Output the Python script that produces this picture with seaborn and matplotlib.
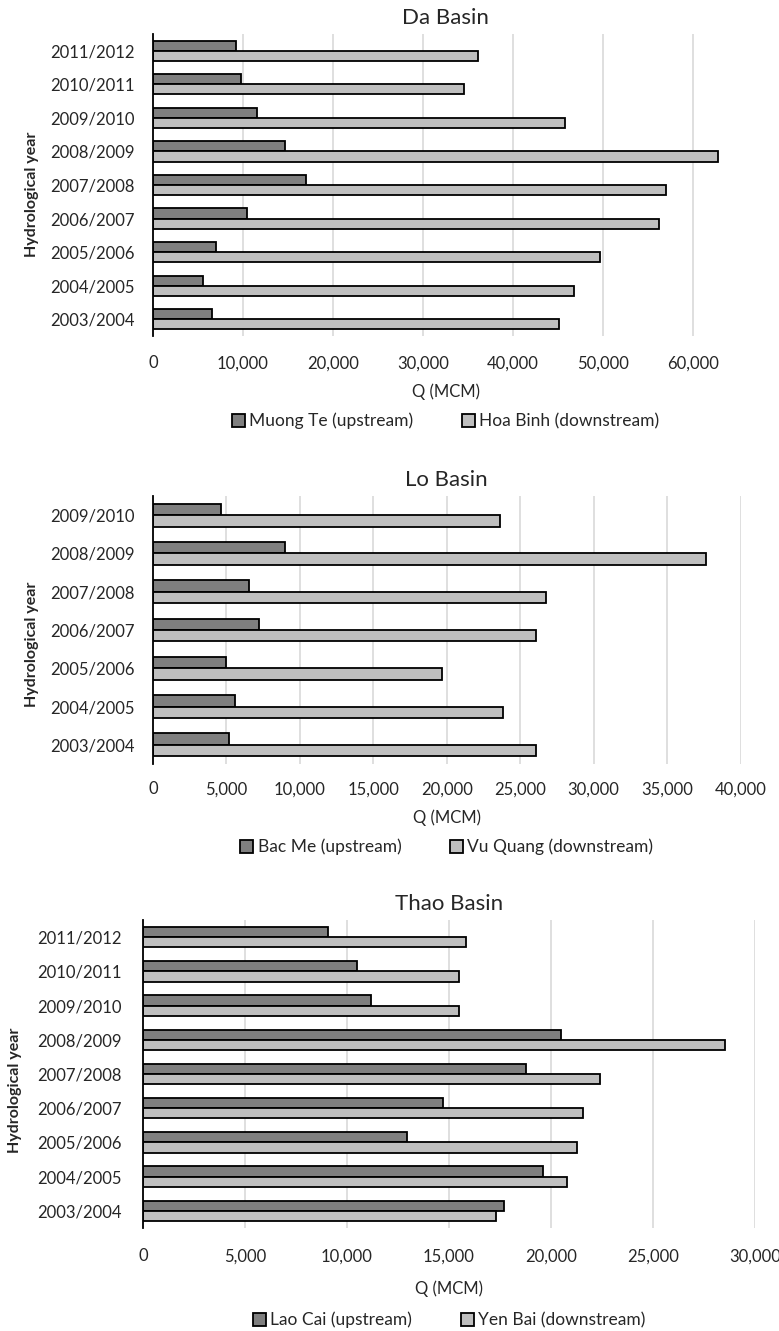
import numpy as np
import pandas as pd
import matplotlib
matplotlib.use("Agg")
import matplotlib.pyplot as plt
import seaborn as sns

# ---- data -------------------------------------------------------------
da_years = ["2011/2012", "2010/2011", "2009/2010", "2008/2009", "2007/2008",
            "2006/2007", "2005/2006", "2004/2005", "2003/2004"]
da_muong_te = [9250, 9750, 11550, 14650, 17000, 10400, 7000, 5550, 6550]
da_hoa_binh = [36100, 34500, 45800, 62800, 57000, 56200, 49700, 46800, 45100]

lo_years = ["2009/2010", "2008/2009", "2007/2008", "2006/2007",
            "2005/2006", "2004/2005", "2003/2004"]
lo_bac_me = [4650, 9000, 6550, 7200, 5000, 5550, 5200]
lo_vu_quang = [23650, 37650, 26750, 26100, 19650, 23850, 26050]

thao_years = ["2011/2012", "2010/2011", "2009/2010", "2008/2009", "2007/2008",
              "2006/2007", "2005/2006", "2004/2005", "2003/2004"]
thao_lao_cai = [9050, 10500, 11200, 20500, 18750, 14700, 12950, 19600, 17700]
thao_yen_bai = [15850, 15500, 15500, 28550, 22400, 21550, 21250, 20800, 17300]

da_ticks = [0, 10000, 20000, 30000, 40000, 50000, 60000]
lo_ticks = [0, 5000, 10000, 15000, 20000, 25000, 30000, 35000, 40000]
thao_ticks = [0, 5000, 10000, 15000, 20000, 25000, 30000]

# ---- style ------------------------------------------------------------
sns.set_theme(style="white")
plt.rcParams["font.family"] = ["Lato", "DejaVu Sans"]

W, H = 779, 1331
DARK, LIGHT = "#7f7f7f", "#bfbfbf"
TXT = "#262626"
TICK_FS = 12

fig = plt.figure(figsize=(W / 100, H / 100), dpi=100)
fig.patch.set_facecolor("white")


def rect(left, right, top, bottom):
    return [left / W, 1 - bottom / H, (right - left) / W, (bottom - top) / H]


def panel(box, title, years, up, down, up_name, down_name, ticks, xmax,
          tick_y, xlabel_y, legend_y, ylabel_x, ylabel_y, tick_pad):
    ax = fig.add_axes(rect(*box))
    df = pd.DataFrame({
        "year": years * 2,
        "Q": list(up) + list(down),
        "station": [up_name] * len(years) + [down_name] * len(years),
    })
    sns.barplot(data=df, y="year", x="Q", hue="station", order=years,
                hue_order=[up_name, down_name],
                palette={up_name: DARK, down_name: LIGHT},
                orient="h", width=0.6, edgecolor="black", linewidth=1.3,
                saturation=1, ax=ax, legend=True)
    ax.set_xlim(0, xmax)
    ax.set_ylim(len(years) - 0.5, -0.5)
    ax.set_xticks(ticks)
    ax.set_xticklabels([f"{t:,}" for t in ticks])
    ax.xaxis.grid(True, color="#d9d9d9", linewidth=1.2)
    ax.yaxis.grid(False)
    ax.set_axisbelow(True)
    for s in ("top", "right", "bottom"):
        ax.spines[s].set_visible(False)
    ax.spines["left"].set_color("black")
    ax.spines["left"].set_linewidth(1.3)
    ax.tick_params(axis="both", length=0, labelsize=TICK_FS, colors=TXT)
    ax.tick_params(axis="y", pad=tick_pad)
    ax.tick_params(axis="x", pad=(tick_y - box[3]) * 0.72 - 4.2)
    ax.set_xlabel("")
    ax.set_ylabel("")
    ax.set_title(title, fontsize=16, color=TXT, pad=7)

    cx = (box[0] + box[1]) / 2
    fig.text(cx / W, 1 - xlabel_y / H, "Q (MCM)", ha="center", va="center",
             fontsize=TICK_FS, color=TXT)
    fig.text(ylabel_x / W, 1 - ylabel_y / H, "Hydrological year", rotation=90,
             ha="center", va="center", fontsize=11.5, fontweight="bold", color=TXT)

    handles, labels = ax.get_legend_handles_labels()
    ax.get_legend().remove()
    fig.legend(handles, labels, loc="center", ncol=2, frameon=False,
               bbox_to_anchor=(cx / W, 1 - legend_y / H), fontsize=12.5,
               handlelength=0.75, handleheight=0.75, handletextpad=0.25,
               columnspacing=2.8, labelcolor=TXT)
    return ax


panel((153, 738, 34, 336), "Da Basin", da_years, da_muong_te, da_hoa_binh,
      "Muong Te (upstream)", "Hoa Binh (downstream)", da_ticks, 65000,
      361, 392, 421, 32, 194, 13)
panel((153, 740.5, 496, 764), "Lo Basin", lo_years, lo_bac_me, lo_vu_quang,
      "Bac Me (upstream)", "Vu Quang (downstream)", lo_ticks, 40000,
      787, 818, 847, 32, 644, 13)
panel((143, 755, 920, 1228), "Thao Basin", thao_years, thao_lao_cai, thao_yen_bai,
      "Lao Cai (upstream)", "Yen Bai (downstream)", thao_ticks, 30000,
      1254, 1289, 1320, 15, 1090, 15)

fig.savefig("out.png", dpi=100, facecolor="white")
